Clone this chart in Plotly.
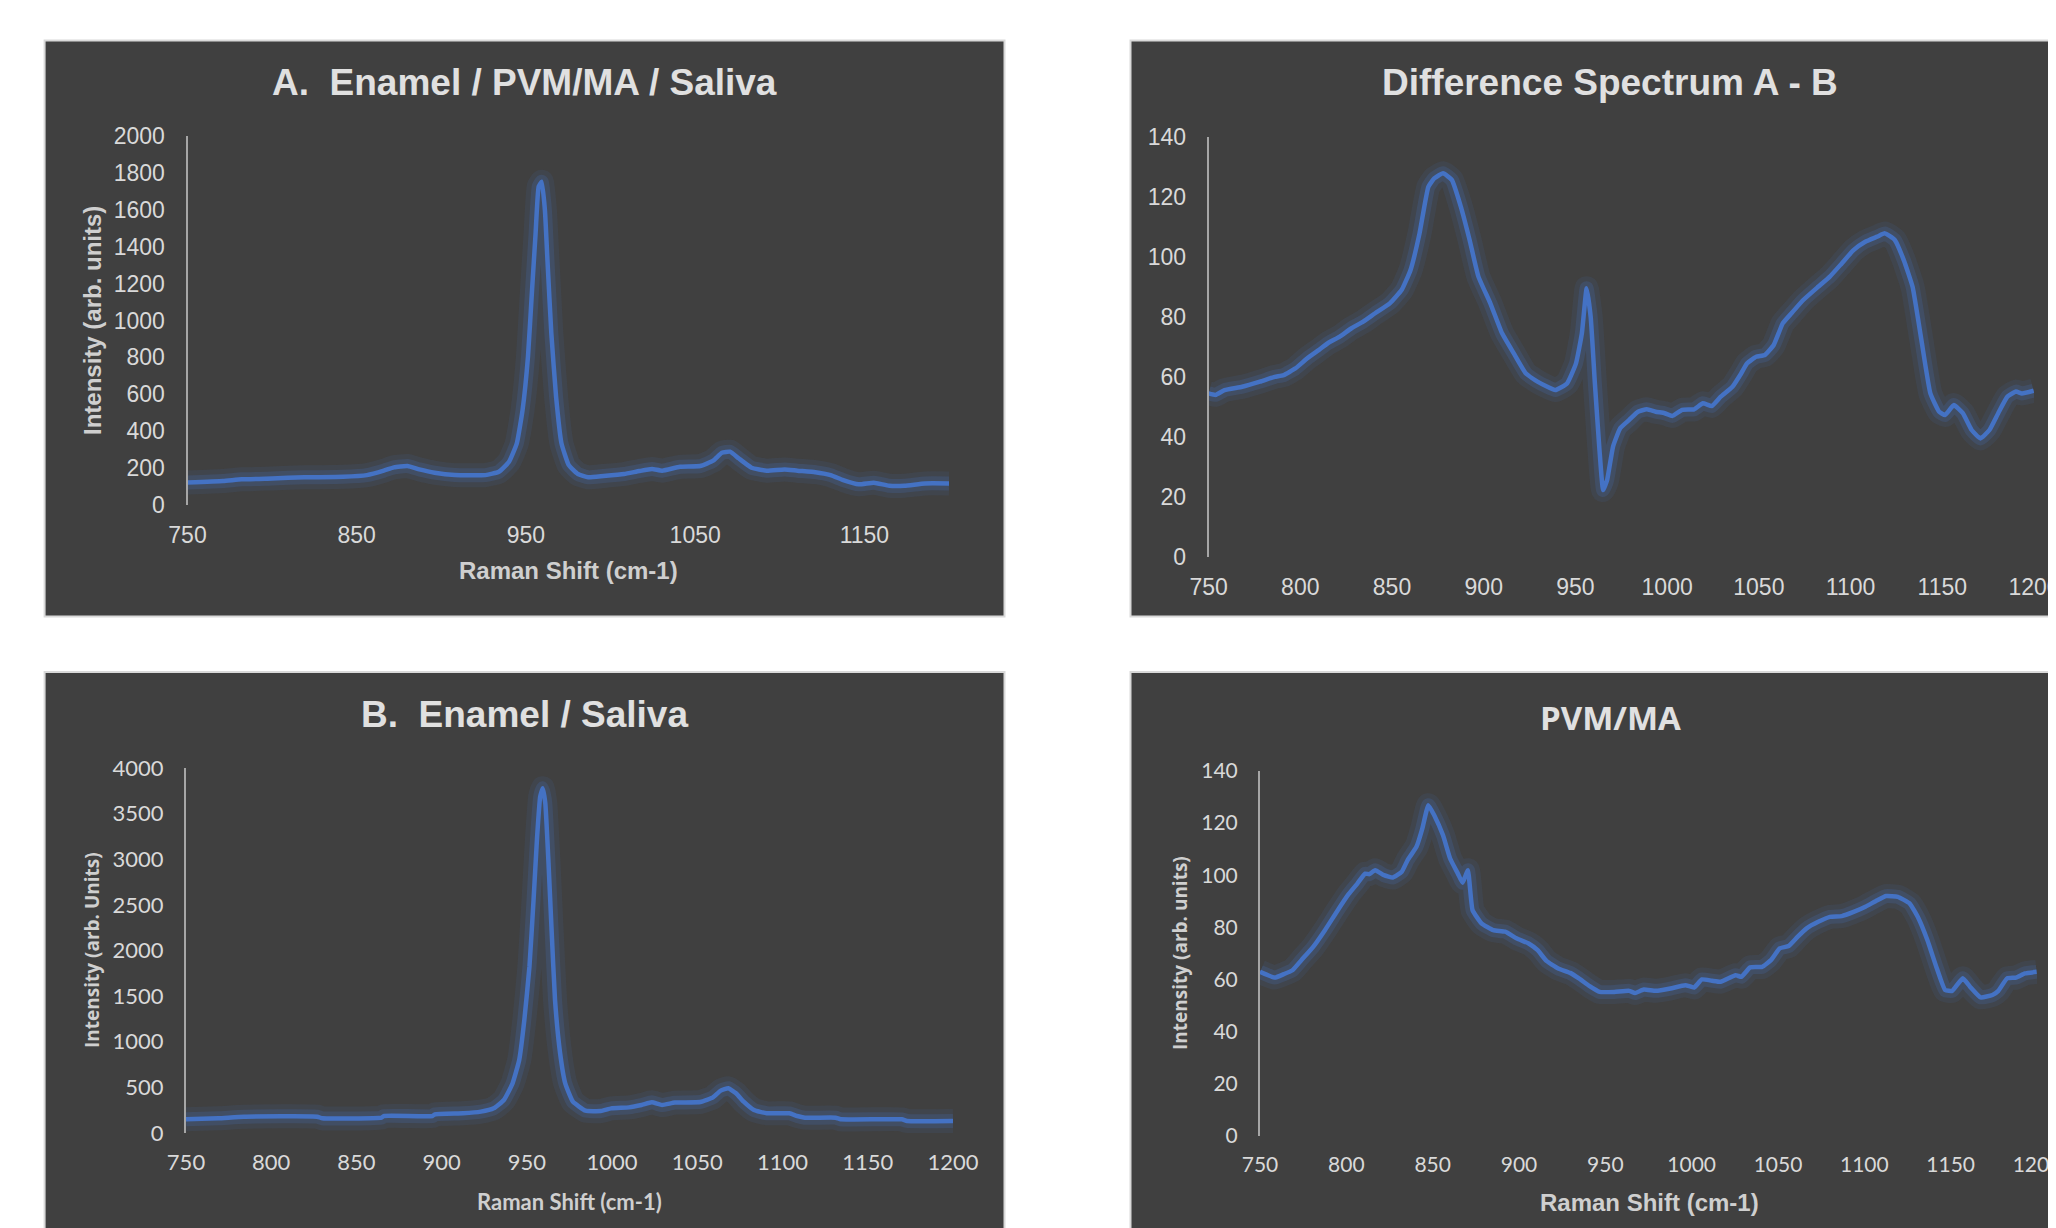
import plotly.graph_objects as go

W, H = 2056, 1228
OFF = 8  # page body margin in which the figure sits

# ---------------- data ----------------
a_x = [750, 771, 782, 800, 819, 842, 856, 866, 872, 880, 887, 896, 908, 926, 934, 940, 944.6, 948,
       951.2, 953.6, 955.7, 957.5, 959.3, 961.2, 962.7, 965, 967.8, 971, 975.3, 980.7, 986.8, 995.8,
       1008, 1017, 1024.5, 1030.5, 1041, 1053, 1060.6, 1065.8, 1070.6, 1075.7, 1083.3, 1092.3, 1102.8,
       1110.4, 1121, 1130, 1137.5, 1146.6, 1155.6, 1164.7, 1173.7, 1185.8, 1200]
a_y = [122, 130, 139, 144, 150, 153, 162, 186, 204, 211, 193, 175, 162, 162, 180, 234, 334, 515,
       804, 1165, 1472, 1725, 1752, 1599, 1328, 930, 587, 334, 216, 168, 150, 157,
       168, 184, 195, 186, 207, 211, 240, 283, 289, 253, 202, 186, 193,
       186, 178, 162, 135, 112, 121, 104, 104, 117, 117]

d_x = [750, 753.8, 758.7, 768.3, 778, 786, 790.9, 797.3, 803.8, 810.2, 815, 821.5, 827.9, 834.3,
       840.8, 848.8, 855.3, 860.1, 865, 869.8, 873, 877.8, 882.6, 887.5, 892.3, 897.1, 903.6, 910,
       916.4, 922.9, 929.3, 939, 945.4, 950.3, 953.5, 956.1, 958.3, 960.6, 963.1, 965.1, 967.3, 970.5,
       974.4, 979.2, 984.1, 988.9, 993.7, 998.6, 1002.8, 1008.2, 1014.7, 1019.5, 1024.3, 1029.2,
       1035.6, 1040.4, 1043.6, 1048.5, 1053.3, 1058.1, 1063, 1067.8, 1074.2, 1082.3, 1088.7, 1095.2,
       1101.6, 1108, 1114.5, 1118.7, 1124.1, 1129, 1133.8, 1138.6, 1143.5, 1148.3, 1151.5, 1156.3,
       1161.2, 1166, 1170.8, 1175.7, 1180.5, 1185.5, 1190.2, 1193.4, 1199.8]
d_y = [54.5, 54, 55.6, 56.7, 58.4, 60, 60.6, 62.8, 66.2, 69, 71.2, 73.4, 76.2, 78.4,
       81.2, 84.5, 89, 95.6, 107.8, 123.3, 126.1, 127.8, 125.6, 116.7, 105.6, 93.4, 84.5, 74.5,
       67.8, 61.2, 58.4, 55.6, 57.8, 64.5, 74.5, 89.5, 80, 57.8, 35.7, 22.3, 25.7, 36.8,
       42.9, 45.6, 48.4, 49.2, 48.4, 47.9, 47, 49, 49.2, 51.2, 50.3, 53.4,
       56.7, 61.2, 64.5, 66.7, 67.3, 70.6, 77.8, 81.2, 85.6, 90, 93.4, 97.8,
       102.2, 105, 106.7, 107.8, 105.6, 98.9, 90, 72.3, 54.5, 48.4, 47.3, 50.6,
       47.9, 42.3, 39.5, 42.3, 47.9, 53.4, 55.1, 54.5, 55.4]

b_x = [750, 769, 784, 827, 830, 864.7, 866, 894.6, 896, 912.6, 923, 930.5, 936.5, 941.6, 945.5,
       948.5, 951.5, 953.9, 956, 957.8, 959.3, 960.8, 962.6, 964.4, 966.5, 969.5, 972.5, 977, 984.4,
       993.4, 999.4, 1009.9, 1017.3, 1023.3, 1029.3, 1036.8, 1051.8, 1059.2, 1063.7, 1068.2, 1072.7,
       1077.2, 1083.2, 1090.7, 1104.1, 1108.6, 1113.1, 1131.1, 1134.1, 1170, 1173, 1200]
b_y = [150, 161, 179, 179, 161, 168, 186, 186, 205, 216, 234, 270, 362, 544, 800,
       1238, 1823, 2553, 3247, 3686, 3777, 3613, 2992, 2261, 1458, 873, 544, 343, 245,
       241, 270, 281, 307, 336, 307, 333, 340, 391, 464, 490, 435,
       343, 252, 216, 216, 186, 168, 168, 150, 150, 132, 132]

p_x = [750, 758.5, 763.7, 768.8, 774, 780.8, 787.6, 794.4, 801.3, 806.4, 810.9, 813.3, 816.7, 821.8,
       827, 832.1, 835.5, 840.6, 844, 847.5, 850.9, 856, 860.1, 864.6, 867.3, 870.4, 873.1, 878.3,
       885.1, 892, 898.8, 905.6, 910.8, 915.9, 922.7, 929.6, 934.7, 940.9, 946.7, 955.2, 963.8, 967.2,
       972.3, 979.2, 987.7, 996.3, 1001.4, 1005.9, 1011.7, 1016.8, 1025.4, 1028.8, 1033.9, 1040.8,
       1045.9, 1051, 1056.2, 1061.3, 1066.4, 1073.3, 1080.1, 1086.9, 1093.8, 1100.6, 1107.5, 1112.6,
       1119.4, 1126.3, 1131.4, 1136.5, 1141.7, 1146.8, 1150.9, 1157, 1161.2, 1167.3, 1174.2, 1177.6,
       1182.7, 1187.9, 1193, 1199.8]
p_y = [62.9, 60.7, 62, 63.5, 67.4, 72.5, 78.9, 85.9, 92.7, 96.8, 100.6, 100.4, 101.9, 100,
       99.1, 101.3, 105.8, 110.9, 117.9, 126.9, 123, 115.3, 106.4, 100.6, 97.1, 101.9, 86.6, 81.5,
       78.9, 78.3, 75.7, 73.8, 71.2, 67.1, 64.2, 62.5, 60.4, 57.4, 55.2, 55.2, 55.6, 54.8,
       56.1, 55.6, 56.5, 57.8, 56.9, 60, 59.5, 59.1, 61.6, 61, 64.6, 64.8,
       67.4, 71.9, 72.8, 76.3, 79.5, 82.1, 84, 84.3, 85.9, 87.9, 90.4, 92,
       91.7, 89.1, 83.4, 75.1, 64.8, 55.9, 55.6, 60.4, 57.2, 53.1, 54, 55.6,
       60.4, 60.7, 62.3, 62.9]

a_xticks = [750, 850, 950, 1050, 1150]
x_ticks50 = [750, 800, 850, 900, 950, 1000, 1050, 1100, 1150, 1200]

titles = ["A.\u00a0 Enamel / PVM/MA / Saliva", "Difference Spectrum A - B",
          "B.\u00a0 Enamel / Saliva", "PVM/MA"]
x_title = "Raman Shift (cm-1)"
y_title_a = "Intensity (arb. units)"
y_title_b = "Intensity (arb. Units)"
y_title_p = "Intensity (arb. units)"

# ---------------- styling ----------------
BG = "#404040"
BORDER = "#d9d9d9"
LINE = "#4472c4"
TXT = "#d9d9d9"
AXT = "#cfcfcf"
ARIAL = "Liberation Sans, Arial, sans-serif"
LATO = "Lato, sans-serif"
OPEN = "Open Sans, sans-serif"


def fx(p):
    return (p - OFF) / W


def fy(p):
    return 1 - (p - OFF) / H


fig = go.Figure()

series = [(a_x, a_y, "x", "y"), (d_x, d_y, "x2", "y2"), (b_x, b_y, "x3", "y3"), (p_x, p_y, "x4", "y4")]
for xs, ys, xa, ya in series:
    for w, c in [(24, "rgba(68,114,196,0.10)"), (14, "rgba(68,114,196,0.20)"), (4.5, LINE)]:
        fig.add_trace(go.Scatter(x=xs, y=ys, xaxis=xa, yaxis=ya, mode="lines",
                                 line=dict(color=c, width=w, shape="spline", smoothing=0.4),
                                 hoverinfo="skip", showlegend=False))

# panel boxes (page pixel geometry)
panels = [(44.6, 40.5, 1004.5, 616.5), (1130.5, 40.5, 2110, 616.5),
          (44.6, 672, 1004.5, 1270), (1130.5, 672, 2110, 1270)]
shapes = []
for x0, y0, x1, y1 in panels:
    shapes.append(dict(type="rect", xref="paper", yref="paper", x0=fx(x0), x1=fx(x1),
                       y0=fy(y1), y1=fy(y0), fillcolor=BG, line=dict(color=BORDER, width=2),
                       layer="below"))

# plot areas: (left, right, top(ymax), bottom(y0)) in page px
areas = [(187.5, 949, 136, 505), (1208.6, 2034, 136.7, 557),
         (186, 953, 768, 1133), (1260, 2037, 771, 1135.7)]
yranges = [[0, 2000], [0, 140], [0, 4000], [0, 140]]
ydticks = [200, 20, 500, 20]
xtickvals = [a_xticks, x_ticks50, x_ticks50, x_ticks50]
tick_fonts = [dict(family=ARIAL, size=23, color=TXT), dict(family=ARIAL, size=23, color=TXT),
              dict(family=LATO, size=22, color=TXT), dict(family=LATO, size=21, color=TXT)]

layout = dict(width=W, height=H, margin=dict(l=0, r=0, t=0, b=0, pad=0, autoexpand=False),
              template="none",
              paper_bgcolor="white", plot_bgcolor="rgba(0,0,0,0)", shapes=shapes, showlegend=False)
for i, (l, r, t, b) in enumerate(areas):
    sx = "" if i == 0 else str(i + 1)
    layout["xaxis" + sx] = dict(domain=[fx(l), fx(r)], range=[750, 1200], tickvals=xtickvals[i],
                                showgrid=False, zeroline=False, showline=False, ticks="",
                                tickfont=tick_fonts[i], ticklabelstandoff=14, automargin=False,
                                ticklabeloverflow="allow",
                                anchor="y" + sx, fixedrange=True)
    layout["yaxis" + sx] = dict(domain=[fy(b), fy(t)], range=yranges[i], dtick=ydticks[i], tick0=0,
                                showgrid=False, zeroline=False, showline=True, linecolor="#a6a6a6",
                                linewidth=2, ticks="", tickfont=tick_fonts[i], ticklabelstandoff=16,
                                automargin=False, ticklabeloverflow="allow",
                                anchor="x" + sx, fixedrange=True)

ann = []
# titles
ann.append(dict(text="<b>%s</b>" % titles[0], x=fx(524.5), y=fy(82.6), font=dict(family=ARIAL, size=37, color="#e0e0e0")))
ann.append(dict(text="<b>%s</b>" % titles[1], x=fx(1610), y=fy(82.6), font=dict(family=ARIAL, size=37, color="#e0e0e0")))
ann.append(dict(text="<b>%s</b>" % titles[2], x=fx(524.5), y=fy(714.6), font=dict(family=ARIAL, size=37, color="#e0e0e0")))
ann.append(dict(text="<b>%s</b>" % titles[3], x=fx(1610), y=fy(717), font=dict(family=OPEN, size=33, color="#e0e0e0")))
# x titles
ann.append(dict(text="<b>%s</b>" % x_title, x=fx(568), y=fy(570), font=dict(family=ARIAL, size=24, color=AXT)))
ann.append(dict(text="<b>%s</b>" % x_title, x=fx(569), y=fy(1201.5), font=dict(family=LATO, size=22, color=AXT)))
ann.append(dict(text="<b>%s</b>" % x_title, x=fx(1649.5), y=fy(1202), font=dict(family=ARIAL, size=24, color=AXT)))
# y titles
ann.append(dict(text="<b>%s</b>" % y_title_a, x=fx(92), y=fy(321), textangle=-90, font=dict(family=ARIAL, size=24, color=AXT)))
ann.append(dict(text="<b>%s</b>" % y_title_b, x=fx(92), y=fy(950), textangle=-90, font=dict(family=OPEN, size=19, color=AXT)))
ann.append(dict(text="<b>%s</b>" % y_title_p, x=fx(1180), y=fy(953), textangle=-90, font=dict(family=OPEN, size=19, color=AXT)))
for a in ann:
    a.update(xref="paper", yref="paper", xanchor="center", yanchor="middle", showarrow=False)
layout["annotations"] = ann

fig.update_layout(**layout)
fig.write_html("out.html")
